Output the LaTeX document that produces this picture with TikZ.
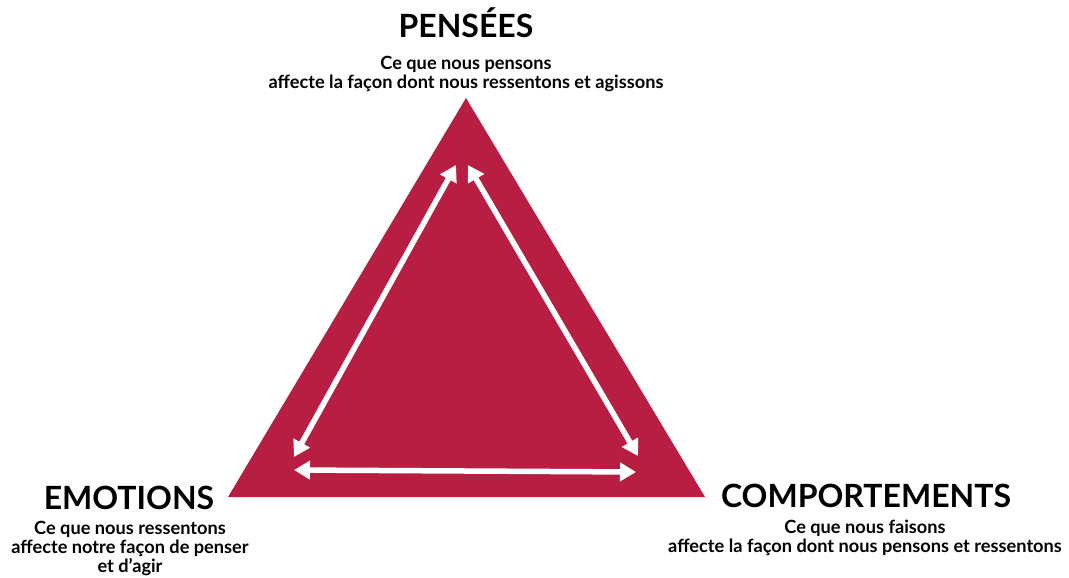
\documentclass[tikz,border=0pt]{standalone}
\usepackage{fontspec}
\setmainfont{Lato}
\usetikzlibrary{arrows.meta}
\definecolor{crimson}{RGB}{183,30,66}
\begin{document}
\begin{tikzpicture}[x=1pt,y=-1pt,
    title/.style={font=\fontsize{32}{36}\selectfont\bfseries,inner sep=0pt,anchor=base},
    sub/.style={font=\fontsize{18.2}{19}\selectfont\bfseries,align=center,inner sep=0pt,anchor=north},
    link/.style={white,line width=5.5pt,{Triangle[width=18pt,length=16pt]}-{Triangle[width=18pt,length=16pt]}}]
    \useasboundingbox (0,0) rectangle (1069,578);

    \coordinate (top) at (466,98);
    \coordinate (left) at (228,497);
    \coordinate (right) at (705,497);
    \fill[crimson] (top) -- (right) -- (left) -- cycle;

    \coordinate (p1) at (456,165);
    \coordinate (p2) at (468,165);
    \coordinate (e1) at (294,457);
    \coordinate (e2) at (294,470);
    \coordinate (c1) at (638,456);
    \coordinate (c2) at (636,472);

    \draw[link] (p1) -- (e1);
    \draw[link] (p2) -- (c1);
    \draw[link] (e2) -- (c2);

    \node (pensees) at (466,38) [title] {PENSÉES};
    \node (penseestxt) at (466,56) [sub] {Ce que nous pensons\\affecte la façon dont nous ressentons et agissons};

    \node (emotions) at (129,509) [title] {EMOTIONS};
    \node (emotionstxt) at (130,521) [sub] {Ce que nous ressentons\\affecte notre façon de penser\\et d’agir};

    \node (comport) at (866,507) [title] {COMPORTEMENTS};
    \node (comporttxt) at (865,520) [sub] {Ce que nous faisons\\affecte la façon dont nous pensons et ressentons};

\end{tikzpicture}
\end{document}
